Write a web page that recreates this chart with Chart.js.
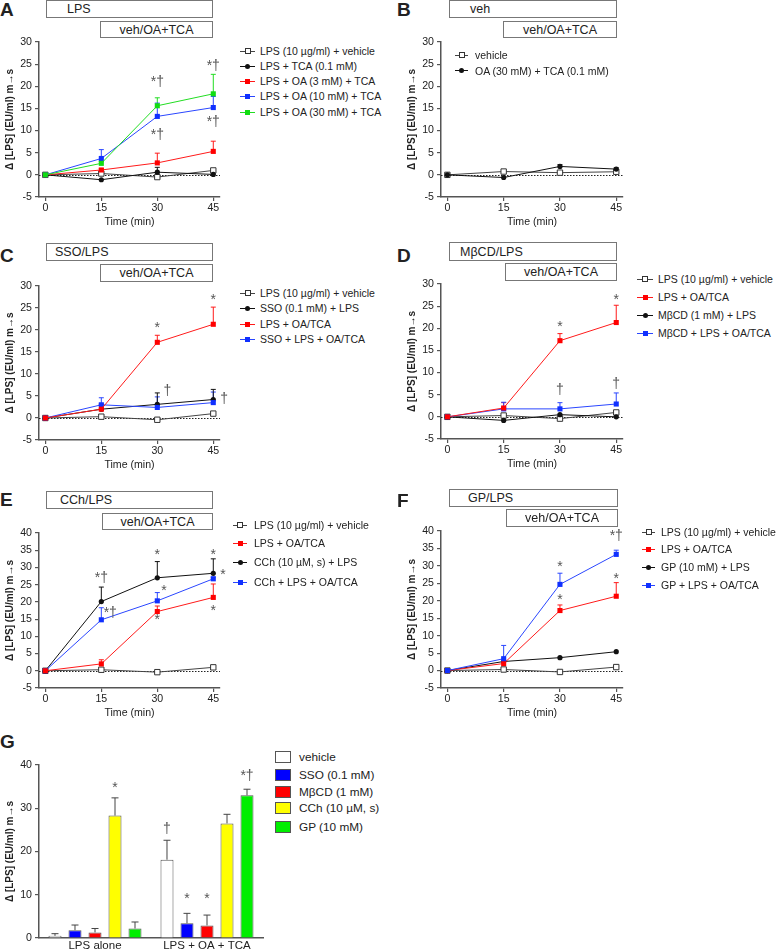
<!DOCTYPE html>
<html>
<head>
<meta charset="utf-8">
<script src="https://cdn.jsdelivr.net/npm/chart.js@4.4.1/dist/chart.umd.min.js"></script>
<style>
  html, body { margin: 0; padding: 0; background: #fff; }
  body { width: 777px; height: 949px; position: relative; overflow: hidden;
         font-family: "Liberation Sans", Arial, sans-serif; color: #222; }
  canvas { position: absolute; }
  .letter { position: absolute; font-weight: bold; font-size: 19px; line-height: 1; }
  .box { position: absolute; border: 1px solid #777; box-sizing: border-box; display: flex;
         align-items: center; font-size: 12.5px; white-space: nowrap; }
  .lline { position: absolute; height: 1px; }
  .lmark { position: absolute; box-sizing: border-box; }
  .ltext { position: absolute; font-size: 10.5px; line-height: 14px; white-space: nowrap; }
  .gtext { position: absolute; font-size: 11.8px; line-height: 14px; white-space: nowrap; }
</style>
</head>
<body>
<script>
const FONT = '"Liberation Sans", Arial, sans-serif';
const INK = '#222';
const AXIS = '#555';

// ---- data ----
const timePoints = [0, 15, 30, 45];
const yTicks30 = [-5, 0, 5, 10, 15, 20, 25, 30];
const yTicks40 = [-5, 0, 5, 10, 15, 20, 25, 30, 35, 40];
const barTicks = [0, 10, 20, 30, 40];

// control groups shared by C-F
const lpsVehicle = [0, 0.3, -0.4, 1.0];
const lpsOaTca = [0, 2.0, 17.2, 21.3];
const lpsOaTcaErr = [0, 1.2, 1.6, 3.9];

// A
const aLabels = ['LPS (10 µg/ml) + vehicle', 'LPS + TCA (0.1 mM)', 'LPS + OA (3 mM) + TCA', 'LPS + OA (10 mM) + TCA', 'LPS + OA (30 mM) + TCA'];
const aVehicle = [0, 0.3, -0.5, 1.0];
const aTca = [0, -1.1, 0.6, 0.1];
const aTcaErr = [0, 0, 1.1, 0];
const aOa3 = [0, 1.1, 2.7, 5.3];
const aOa3Err = [0, 0.3, 2.2, 2.3];
const aOa10 = [0, 3.7, 13.2, 15.2];
const aOa10Err = [0, 2.0, 3.0, 2.5];
const aOa30 = [0, 2.6, 15.6, 18.3];
const aOa30Err = [0, 0.4, 1.8, 4.4];
const aNotes = [[30, 21.4, '*†'], [30, 9.4, '*†'], [45, 25.0, '*†'], [45, 12.4, '*†']];

// B
const bLabels = ['vehicle', 'OA (30 mM) + TCA (0.1 mM)'];
const bVehicle = [0, 0.75, 0.5, 0.7];
const bOaTca = [0, -0.6, 1.9, 1.3];
const bOaTcaErr = [0, 0, 0.4, 0.3];

// C
const cLabels = ['LPS (10 µg/ml) + vehicle', 'SSO (0.1 mM) + LPS', 'LPS + OA/TCA', 'SSO + LPS + OA/TCA'];
const cSso = [0, 2.0, 3.1, 4.2];
const cSsoErr = [0, 1.0, 2.6, 2.3];
const cSsoOa = [0, 3.0, 2.4, 3.5];
const cSsoOaErr = [0, 1.6, 2.4, 2.4];
const cNotes = [[30, 20.9, '*'], [45, 27.3, '*'], [32.7, 6.6, '†'], [47.9, 4.8, '†']];

// D
const dLabels = ['LPS (10 µg/ml) + vehicle', 'LPS + OA/TCA', 'MβCD (1 mM) + LPS', 'MβCD + LPS + OA/TCA'];
const dMbcd = [0, -0.8, 0.5, 0.0];
const dMbcdOa = [0, 1.8, 1.8, 2.9];
const dMbcdOaErr = [0, 1.5, 1.4, 2.5];
const dNotes = [[30, 20.6, '*'], [45, 26.8, '*'], [30, 6.4, '†'], [45, 7.9, '†']];

// E
const eLabels = ['LPS (10 µg/ml) + vehicle', 'LPS + OA/TCA', 'CCh (10 µM, s) + LPS', 'CCh + LPS + OA/TCA'];
const eCch = [0, 20.1, 27.0, 28.3];
const eCchErr = [0, 4.2, 4.7, 4.2];
const eCchOa = [0, 14.8, 20.3, 26.7];
const eCchOaErr = [0, 3.5, 2.4, 0.5];
const eNotes = [[15, 27.6, '*†'], [17.4, 17.4, '*†'], [30, 34.1, '*'], [31.8, 23.8, '*'], [30, 15.3, '*'],
                [45, 34.1, '*'], [47.6, 28.3, '*'], [45, 17.9, '*']];

// F
const fLabels = ['LPS (10 µg/ml) + vehicle', 'LPS + OA/TCA', 'GP (10 mM) + LPS', 'GP + LPS + OA/TCA'];
const fGp = [0, 2.6, 3.7, 5.4];
const fGpOa = [0, 3.4, 24.7, 33.3];
const fGpOaErr = [0, 3.8, 3.2, 1.2];
const fNotes = [[30, 30.3, '*'], [30, 20.8, '*'], [45, 39.1, '*†'], [45, 26.9, '*']];

// G
const gCategories = ['LPS alone', 'LPS + OA + TCA'];
const gLabels = ['vehicle', 'SSO (0.1 mM)', 'MβCD (1 mM)', 'CCh (10 µM, s)', 'GP (10 mM)'];
const gVehicle = [0.5, 18.1];
const gVehicleErr = [0.5, 4.5];
const gSso = [1.8, 3.4];
const gSsoErr = [1.2, 2.3];
const gMbcd = [1.3, 2.9];
const gMbcdErr = [0.9, 2.4];
const gCch = [28.3, 26.5];
const gCchErr = [4.1, 2.1];
const gGp = [2.2, 33.0];
const gGpErr = [1.5, 1.4];
const gNotes = [[3, 0, 35.0, '*'], [0, 1, 25.7, '†'], [1, 1, 9.4, '*'], [2, 1, 9.4, '*'], [4, 1, 37.9, '*†']];

// ---- styles ----
const STYLES = {
  open:  { borderColor: '#444', pointStyle: 'rect', pointRadius: 3.8, pointBackgroundColor: '#fff', pointBorderColor: '#333', pointBorderWidth: 1, mark: 6, round: false },
  dot:   { borderColor: '#111', pointStyle: 'circle', pointRadius: 2.6, pointBackgroundColor: '#111', pointBorderColor: '#111', pointBorderWidth: 0, mark: 5, round: true },
  red:   { borderColor: '#ff1a1a', pointStyle: 'rect', pointRadius: 3.6, pointBackgroundColor: '#ff0000', pointBorderColor: '#ff0000', pointBorderWidth: 0, mark: 5, round: false },
  blue:  { borderColor: '#2a46ff', pointStyle: 'rect', pointRadius: 3.6, pointBackgroundColor: '#1030ff', pointBorderColor: '#1030ff', pointBorderWidth: 0, mark: 5, round: false },
  green: { borderColor: '#22dd22', pointStyle: 'rect', pointRadius: 3.6, pointBackgroundColor: '#11dd11', pointBorderColor: '#11dd11', pointBorderWidth: 0, mark: 5, round: false }
};
const BAR_COLORS = ['#ffffff', '#0000ff', '#ff0000', '#ffff00', '#00ee00'];

// ---- helpers ----
function addDiv(cls, css, text) {
  const d = document.createElement('div');
  d.className = cls;
  Object.assign(d.style, css);
  if (text != null) d.textContent = text;
  document.body.appendChild(d);
  return d;
}

function addLetter(text, x, y) {
  addDiv('letter', { left: x + 'px', top: y + 'px' }, text);
}

function addBox(text, x1, y1, x2, y2, textX) {
  addDiv('box', {
    left: x1 + 'px', top: y1 + 'px', width: (x2 - x1) + 'px', height: (y2 - y1) + 'px',
    justifyContent: textX == null ? 'center' : 'flex-start',
    paddingLeft: textX == null ? '0' : (textX - x1) + 'px'
  }, text);
}

function addLegend(labels, styleKeys, lineX, lineW, rows, textX) {
  labels.forEach((label, i) => {
    const s = STYLES[styleKeys[i]];
    const y = rows[i];
    addDiv('lline', { left: lineX + 'px', top: (y - 0.5) + 'px', width: lineW + 'px', background: s.borderColor });
    addDiv('lmark', {
      left: (lineX + lineW / 2 - s.mark / 2) + 'px', top: (y - s.mark / 2) + 'px',
      width: s.mark + 'px', height: s.mark + 'px', background: s.pointBackgroundColor,
      border: s.pointBorderWidth ? '1px solid ' + s.pointBorderColor : 'none',
      borderRadius: s.round ? '50%' : '0'
    });
    addDiv('ltext', { left: textX + 'px', top: (y - 7) + 'px' }, label);
  });
}

function yValue(d) { return typeof d === 'object' ? d.y : d; }

const errorBars = {
  id: 'errorBars',
  beforeDatasetsDraw(chart) {
    const ctx = chart.ctx;
    chart.data.datasets.forEach((ds, i) => {
      if (!ds.errors) return;
      const meta = chart.getDatasetMeta(i);
      const yScale = chart.scales[meta.yAxisID];
      meta.data.forEach((el, j) => {
        const e = ds.errors[j];
        if (!e) return;
        const top = yScale.getPixelForValue(yValue(ds.data[j]) + e);
        const cap = ds.capHalf || 2.5;
        ctx.save();
        ctx.strokeStyle = ds.errorColor || ds.borderColor;
        ctx.lineWidth = 1;
        ctx.beginPath();
        ctx.moveTo(el.x, el.y);
        ctx.lineTo(el.x, top);
        ctx.moveTo(el.x - cap, top);
        ctx.lineTo(el.x + cap, top);
        ctx.stroke();
        ctx.restore();
      });
    });
  }
};

const zeroLine = {
  id: 'zeroLine',
  beforeDatasetsDraw(chart) {
    const ctx = chart.ctx, area = chart.chartArea;
    const y = Math.round(chart.scales.y.getPixelForValue(0)) + 0.5;
    ctx.save();
    ctx.strokeStyle = '#222';
    ctx.lineWidth = 1;
    ctx.setLineDash([1.5, 1.5]);
    ctx.beginPath();
    ctx.moveTo(area.left, y);
    ctx.lineTo(area.right, y);
    ctx.stroke();
    ctx.restore();
  }
};

function notesPlugin(notes) {
  return {
    id: 'notes',
    afterDraw(chart) {
      const ctx = chart.ctx;
      ctx.save();
      ctx.fillStyle = '#555';
      ctx.font = '14px ' + FONT;
      ctx.textAlign = 'center';
      ctx.textBaseline = 'middle';
      notes.forEach(([x, y, t]) => {
        ctx.fillText(t, chart.scales.x.getPixelForValue(x), chart.scales.y.getPixelForValue(y) + 2);
      });
      ctx.restore();
    }
  };
}

function barNotesPlugin(notes) {
  return {
    id: 'barNotes',
    afterDraw(chart) {
      const ctx = chart.ctx;
      ctx.save();
      ctx.fillStyle = '#555';
      ctx.font = '14px ' + FONT;
      ctx.textAlign = 'center';
      ctx.textBaseline = 'middle';
      notes.forEach(([di, idx, y, t]) => {
        const el = chart.getDatasetMeta(di).data[idx];
        ctx.fillText(t, el.x, chart.scales.y.getPixelForValue(y) + 2);
      });
      ctx.restore();
    }
  };
}

const Y_TITLE = 'Δ [LPS] (EU/ml) m→s';

function yAxis(min, max, ticks) {
  return {
    min: min, max: max,
    afterBuildTicks: s => { s.ticks = ticks.map(v => ({ value: v })); },
    afterFit: s => { s.width = 39; },
    grid: { drawOnChartArea: false, drawTicks: true, tickLength: 4, color: AXIS, lineWidth: 1.2 },
    border: { color: AXIS, width: 1.5 },
    ticks: { padding: 3, color: INK, font: { family: FONT, size: 10.6 } },
    title: { display: true, text: Y_TITLE, color: INK, font: { family: FONT, size: 10, weight: 'bold' }, padding: { top: 4, bottom: 0 } }
  };
}

function makeCanvas(left, top, width, height) {
  const c = document.createElement('canvas');
  c.width = width; c.height = height;
  c.style.left = left + 'px'; c.style.top = top + 'px';
  document.body.appendChild(c);
  return c;
}

function linePanel(geo, series, yMax, yTicks, notes) {
  const left = geo.axisX - 39, top = geo.top - 12;
  const canvas = makeCanvas(left, top, geo.right - left + 14, geo.bottom - top + 33);
  const datasets = series.map(([label, values, errors, key]) => Object.assign({
    label: label,
    data: values.map((v, i) => ({ x: timePoints[i], y: v })),
    errors: errors,
    borderWidth: 1,
    tension: 0,
    fill: false
  }, STYLES[key]));
  new Chart(canvas, {
    type: 'line',
    data: { datasets: datasets },
    options: {
      responsive: false, animation: false, devicePixelRatio: 1,
      layout: { padding: { top: 12, right: 14, left: 0, bottom: 0 } },
      plugins: { legend: { display: false }, tooltip: { enabled: false } },
      scales: {
        x: {
          type: 'linear', min: -1.7, max: 46.8,
          afterBuildTicks: s => { s.ticks = timePoints.map(v => ({ value: v })); },
          afterFit: s => { s.height = 33; },
          grid: { drawOnChartArea: false, drawTicks: true, tickLength: 4, color: AXIS, lineWidth: 1.2 },
          border: { color: AXIS, width: 1.5 },
          ticks: { padding: 1, color: INK, maxRotation: 0, font: { family: FONT, size: 10.6 } },
          title: { display: true, text: 'Time (min)', color: INK, font: { family: FONT, size: 10.6 }, padding: { top: 0, bottom: 2 } }
        },
        y: yAxis(-5, yMax, yTicks)
      }
    },
    plugins: [zeroLine, errorBars, notesPlugin(notes)]
  });
}

// ---- panel A ----
addLetter('A', 0, 0);
addBox('LPS', 46, 0, 213, 18, 66);
addBox('veh/OA+TCA', 100, 21, 213, 38);
linePanel({ axisX: 39, top: 42, bottom: 197, right: 220 }, [
  [aLabels[4], aOa30, aOa30Err, 'green'],
  [aLabels[3], aOa10, aOa10Err, 'blue'],
  [aLabels[2], aOa3, aOa3Err, 'red'],
  [aLabels[1], aTca, aTcaErr, 'dot'],
  [aLabels[0], aVehicle, null, 'open']
], 30, yTicks30, aNotes);
addLegend(aLabels, ['open', 'dot', 'red', 'blue', 'green'], 240, 15, [51, 66, 81, 96, 112], 260);

// ---- panel B ----
addLetter('B', 397, 0);
addBox('veh', 449, 0, 617, 18, 469);
addBox('veh/OA+TCA', 503, 21, 617, 38);
linePanel({ axisX: 441, top: 42, bottom: 197, right: 623 }, [
  [bLabels[1], bOaTca, bOaTcaErr, 'dot'],
  [bLabels[0], bVehicle, null, 'open']
], 30, yTicks30, []);
addLegend(bLabels, ['open', 'dot'], 455, 13, [55, 70.5], 475);

// ---- panel C ----
addLetter('C', 0, 245.5);
addBox('SSO/LPS', 46, 243, 213, 261, 54);
addBox('veh/OA+TCA', 100, 264, 213, 282);
linePanel({ axisX: 39, top: 286, bottom: 440, right: 220 }, [
  [cLabels[2], lpsOaTca, lpsOaTcaErr, 'red'],
  [cLabels[3], cSsoOa, cSsoOaErr, 'blue'],
  [cLabels[1], cSso, cSsoErr, 'dot'],
  [cLabels[0], lpsVehicle, null, 'open']
], 30, yTicks30, cNotes);
addLegend(cLabels, ['open', 'dot', 'red', 'blue'], 240, 15, [293, 308, 324, 339], 260);

// ---- panel D ----
addLetter('D', 397, 245.5);
addBox('MβCD/LPS', 449, 242, 617, 261, 459);
addBox('veh/OA+TCA', 505, 263, 617, 281);
linePanel({ axisX: 441, top: 284, bottom: 439, right: 623 }, [
  [dLabels[1], lpsOaTca, lpsOaTcaErr, 'red'],
  [dLabels[3], dMbcdOa, dMbcdOaErr, 'blue'],
  [dLabels[2], dMbcd, null, 'dot'],
  [dLabels[0], lpsVehicle, null, 'open']
], 30, yTicks30, dNotes);
addLegend(dLabels, ['open', 'red', 'dot', 'blue'], 637, 16, [279, 297, 315, 333], 658);

// ---- panel E ----
addLetter('E', 0, 489.5);
addBox('CCh/LPS', 46, 491, 213, 509, 59);
addBox('veh/OA+TCA', 102, 513, 213, 530);
linePanel({ axisX: 39, top: 533, bottom: 688, right: 220 }, [
  [eLabels[1], lpsOaTca, lpsOaTcaErr, 'red'],
  [eLabels[3], eCchOa, eCchOaErr, 'blue'],
  [eLabels[2], eCch, eCchErr, 'dot'],
  [eLabels[0], lpsVehicle, null, 'open']
], 40, yTicks40, eNotes);
addLegend(eLabels, ['open', 'red', 'dot', 'blue'], 233, 14, [525, 543, 562, 582], 254);

// ---- panel F ----
addLetter('F', 397, 490.5);
addBox('GP/LPS', 449, 489, 618, 507, 467);
addBox('veh/OA+TCA', 506, 509, 618, 527);
linePanel({ axisX: 441, top: 531, bottom: 688, right: 623 }, [
  [fLabels[3], fGpOa, fGpOaErr, 'blue'],
  [fLabels[1], lpsOaTca, lpsOaTcaErr, 'red'],
  [fLabels[2], fGp, null, 'dot'],
  [fLabels[0], lpsVehicle, null, 'open']
], 40, yTicks40, fNotes);
addLegend(fLabels, ['open', 'red', 'dot', 'blue'], 642, 13, [532, 549, 567, 585], 661);

// ---- panel G ----
addLetter('G', 0, 732);
(function () {
  const top = 765 - 12;
  const canvas = makeCanvas(0, top, 268, 938 - top + 22);
  const values = [gVehicle, gSso, gMbcd, gCch, gGp];
  const errs = [gVehicleErr, gSsoErr, gMbcdErr, gCchErr, gGpErr];
  new Chart(canvas, {
    type: 'bar',
    data: {
      labels: gCategories,
      datasets: gLabels.map((label, i) => ({
        label: label,
        data: values[i],
        errors: errs[i],
        errorColor: '#444',
        capHalf: 3.5,
        backgroundColor: BAR_COLORS[i],
        borderColor: '#555',
        borderWidth: 1,
        categoryPercentage: 0.893,
        barPercentage: 0.65
      }))
    },
    options: {
      responsive: false, animation: false, devicePixelRatio: 1,
      layout: { padding: { top: 12, right: 5, left: 0, bottom: 0 } },
      plugins: { legend: { display: false }, tooltip: { enabled: false } },
      scales: {
        x: {
          afterFit: s => { s.height = 22; },
          grid: { display: false, drawTicks: false },
          border: { color: AXIS, width: 1.5 },
          ticks: { padding: 1, color: INK, font: { family: FONT, size: 11.5 } }
        },
        y: yAxis(0, 40, barTicks)
      }
    },
    plugins: [errorBars, barNotesPlugin(gNotes)]
  });
  const rows = [757, 775, 792, 808, 827];
  gLabels.forEach((label, i) => {
    addDiv('lmark', { left: '275px', top: (rows[i] - 6) + 'px', width: '16px', height: '12px',
                      background: BAR_COLORS[i], border: '1px solid #555' });
    addDiv('gtext', { left: '299px', top: (rows[i] - 7) + 'px' }, label);
  });
})();
</script>
</body>
</html>
